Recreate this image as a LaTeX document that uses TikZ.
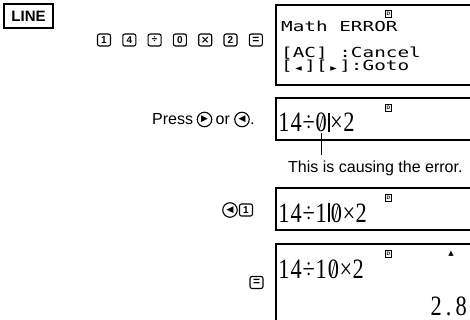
\documentclass[tikz,border=0pt]{standalone}
\usepackage{fontspec}
\setmainfont{Liberation Sans}
\newfontfamily\lcdmono{DejaVu Sans Mono}
\newfontfamily\lcdserif{Liberation Serif}
\newfontfamily\dvsym{DejaVu Sans}
\newcommand\lcdcell[1]{\makebox[12.4pt]{\scalebox{0.8}[1]{#1}}}
\newcommand\lcdzero{\ooalign{0\cr\hidewidth\raisebox{1.2pt}{\scalebox{0.75}[0.78]{/}}\hidewidth\cr}}
\newcommand\lcdcursor{\makebox[3pt]{\rule[-0.3pt]{2pt}{19.5pt}}}
\newcommand\lcdtri[1]{\makebox[0.602em]{\dvsym\fontsize{6}{6}\selectfont#1}}
\tikzset{
  modebox/.style={draw, line width=1.3pt, minimum width=49pt, minimum height=24pt, inner sep=0pt, font=\bfseries\fontsize{15}{15}\selectfont},
  keycap/.style={draw, rounded corners=2pt, line width=1.1pt, minimum width=13pt, minimum height=12pt, inner sep=0pt, font=\bfseries\fontsize{10}{10}\selectfont},
  arrowkey/.style={draw, circle, line width=1.1pt, minimum size=14.5pt, inner sep=0pt, font=\dvsym\fontsize{9}{9}\selectfont},
  scr/.style={draw, line width=1.2pt, anchor=north west, minimum width=220pt, inner sep=0pt, outer sep=0pt},
  monotxt/.style={anchor=base west, inner sep=0pt, font=\lcdmono\fontsize{13.8}{13.8}\selectfont},
  lcdtxt/.style={anchor=base west, inner sep=0pt, font=\lcdserif\fontsize{28}{28}\selectfont},
  ind/.style={draw, line width=0.9pt, minimum width=6.5pt, minimum height=7pt, inner sep=0pt, font=\bfseries\fontsize{5}{5}\selectfont},
  sanstxt/.style={inner sep=0pt, font=\fontsize{16}{16}\selectfont},
  pointer/.style={line width=0.8pt}
}
\begin{document}
\begin{tikzpicture}[x=1pt,y=-1pt]
\useasboundingbox (0,0) rectangle (470,320);
\clip (0,0) rectangle (470,320);

% mode label
\node[modebox] (mode) at (28.5,16) {LINE};

% key sequence
\node[keycap] (k1) at (104,40) {1};
\node[keycap] (k2) at (129.3,40) {4};
\node[keycap] (k3) at (154.6,40) {÷};
\node[keycap] (k4) at (179.9,40) {0};
\node[keycap, font=\dvsym\bfseries\fontsize{10.5}{10.5}\selectfont] (k5) at (205.2,40) {×};
\node[keycap] (k6) at (230.5,40) {2};
\node[keycap, font=\bfseries\fontsize{12}{12}\selectfont] (k7) at (255.8,40) {=};

% screen 1
\node[scr, minimum height=80pt] (s1) at (276,5) {};
\node[ind] (d1) at (388.5,14) {D};
\node[monotxt] (m1) at (281,32) {\scalebox{1.4}[1]{Math ERROR}};
\node[monotxt] (m2) at (281,58) {\scalebox{1.4}[1]{[AC] :Cancel}};
\node[monotxt] (m3) at (281,71) {\scalebox{1.4}[1]{[\lcdtri{◀}][\lcdtri{▶}]:Goto}};

% step 2
\node[sanstxt, anchor=base west] (press) at (152,125) {Press};
\node[arrowkey] (rk) at (204.5,119.5) {▶};
\node[sanstxt, anchor=base west] (por) at (215.5,125) {or};
\node[arrowkey] (lk) at (242,119.5) {◀};
\node[sanstxt, anchor=base west] (pdot) at (250,125) {.};

\node[scr, minimum height=42pt] (s2) at (276,98) {};
\node[ind] (d2) at (388.5,107.5) {D};
\node[lcdtxt] (e2) at (277.5,132) {\lcdcell{1}\lcdcell{4}\lcdcell{÷}\lcdcell{\lcdzero}\lcdcursor\lcdcell{×}\lcdcell{2}};
\coordinate (zero) at (321,133);
\node[sanstxt, anchor=base west] (cause) at (288,172) {This is causing the error.};
\draw[pointer] (zero) -- (zero |- 0,155);

% step 3
\node[arrowkey] (lk2) at (230,210) {◀};
\node[keycap] (k8) at (246,210) {1};
\node[scr, minimum height=42pt] (s3) at (276,188) {};
\node[ind] (d3) at (388.5,197.5) {D};
\node[lcdtxt] (e3) at (277.5,222) {\lcdcell{1}\lcdcell{4}\lcdcell{÷}\lcdcell{1}\lcdcursor\lcdcell{\lcdzero}\lcdcell{×}\lcdcell{2}};

% step 4
\node[keycap, font=\bfseries\fontsize{12}{12}\selectfont] (k9) at (256.5,282.5) {=};
\node[scr, minimum height=90pt] (s4) at (276,244) {};
\node[ind] (d4) at (388.5,253.5) {D};
\node[font=\dvsym\fontsize{7}{7}\selectfont, inner sep=0pt] (up) at (451,254) {▲};
\node[lcdtxt] (e4) at (277.5,278) {\lcdcell{1}\lcdcell{4}\lcdcell{÷}\lcdcell{1}\lcdcell{\lcdzero}\lcdcell{×}\lcdcell{2}};
\node[lcdtxt, anchor=base east] (res) at (467.5,315) {\lcdcell{2}\lcdcell{.}\lcdcell{8}};
\end{tikzpicture}
\end{document}
